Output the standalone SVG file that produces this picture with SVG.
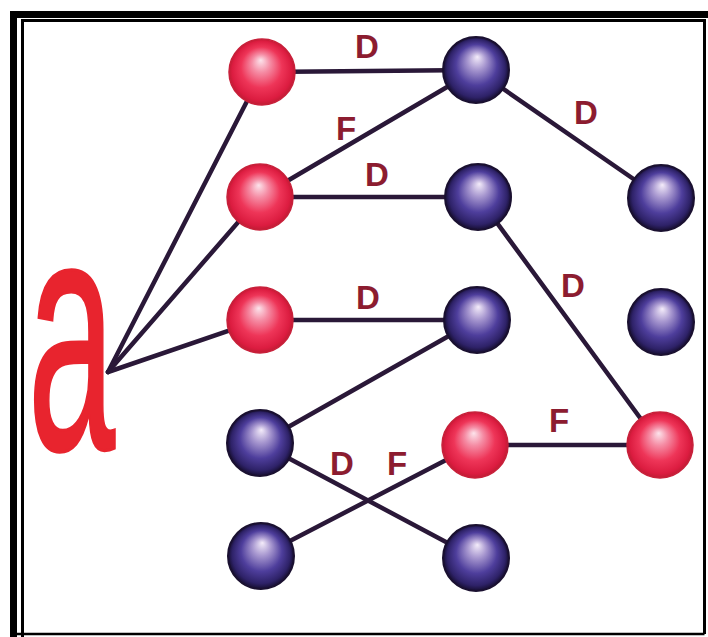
<svg xmlns="http://www.w3.org/2000/svg" width="708" height="637" viewBox="0 0 708 637">
<defs>
<radialGradient id="gRed" cx="0.5" cy="0.5" r="0.5" fx="0.48" fy="0.32">
<stop offset="0" stop-color="#fce4ec"/>
<stop offset="0.28" stop-color="#f58ca4"/>
<stop offset="0.62" stop-color="#ee3558"/>
<stop offset="0.9" stop-color="#dc1c40"/>
<stop offset="1" stop-color="#c01c34"/>
</radialGradient>
<radialGradient id="gBlue" cx="0.5" cy="0.5" r="0.5" fx="0.52" fy="0.3">
<stop offset="0" stop-color="#f4ecfa"/>
<stop offset="0.28" stop-color="#a898d0"/>
<stop offset="0.62" stop-color="#4e3e9c"/>
<stop offset="0.88" stop-color="#2e2268"/>
<stop offset="1" stop-color="#160e30"/>
</radialGradient>
<style>
.red{fill:url(#gRed);stroke:#c8203a;stroke-width:1.5}
.blue{fill:url(#gBlue);stroke:#1a1030;stroke-width:2}
.edge{stroke:#2a1838;stroke-width:4.5;fill:none;stroke-linecap:round}
.lbl{font-family:"Liberation Sans",Arial,sans-serif;font-size:33px;font-weight:bold;fill:#8c1c30;text-anchor:middle}
</style>
</defs>
<rect x="0" y="0" width="708" height="637" fill="#ffffff"/>
<g id="frame" fill="none" stroke="#000">
<path d="M13.5,637 V14.5 H708" stroke-width="7"/>
<path d="M22.5,637 V20.5 H704.5 V634" stroke-width="3"/>
<path d="M13,634 H704.5" stroke-width="2.5"/>
</g>
<g id="connectors">
<line class="edge" x1="108" y1="372" x2="262" y2="72"/>
<line class="edge" x1="108" y1="372" x2="260" y2="197"/>
<line class="edge" x1="108" y1="372" x2="260" y2="320"/>
<line class="edge" x1="262" y1="72" x2="476" y2="70"/>
<line class="edge" x1="260" y1="197" x2="476" y2="70"/>
<line class="edge" x1="260" y1="197" x2="478" y2="197"/>
<line class="edge" x1="260" y1="320" x2="477" y2="320"/>
<line class="edge" x1="476" y1="70" x2="661" y2="198"/>
<line class="edge" x1="478" y1="197" x2="660" y2="445"/>
<line class="edge" x1="477" y1="320" x2="260" y2="443"/>
<line class="edge" x1="260" y1="443" x2="476" y2="558"/>
<line class="edge" x1="261" y1="556" x2="475" y2="445"/>
<line class="edge" x1="475" y1="445" x2="660" y2="445"/>
<text class="lbl" x="367" y="58">D</text>
<text class="lbl" x="346" y="140">F</text>
<text class="lbl" x="377" y="186">D</text>
<text class="lbl" x="368" y="309">D</text>
<text class="lbl" x="586" y="124">D</text>
<text class="lbl" x="573" y="297">D</text>
<text class="lbl" x="559" y="432">F</text>
<text class="lbl" x="342" y="475">D</text>
<text class="lbl" x="397" y="475">F</text>
</g>
<g id="a-label">
<text transform="translate(28,449) scale(0.47,1)" font-family="Liberation Sans,Arial,sans-serif" font-size="333" fill="#e8242e" stroke="#e8242e" stroke-width="3">a</text>
</g>
<g id="r1"><circle class="red" cx="262" cy="72" r="33"/></g>
<g id="r2"><circle class="red" cx="260" cy="197" r="33"/></g>
<g id="r3"><circle class="red" cx="260" cy="320" r="33"/></g>
<g id="r4"><circle class="red" cx="475" cy="445" r="33"/></g>
<g id="r5"><circle class="red" cx="660" cy="445" r="33"/></g>
<g id="b1"><circle class="blue" cx="476" cy="70" r="33"/></g>
<g id="b2"><circle class="blue" cx="661" cy="198" r="33"/></g>
<g id="b3"><circle class="blue" cx="478" cy="197" r="33"/></g>
<g id="b4"><circle class="blue" cx="477" cy="320" r="33"/></g>
<g id="b5"><circle class="blue" cx="661" cy="322" r="33"/></g>
<g id="b6"><circle class="blue" cx="260" cy="443" r="33"/></g>
<g id="b7"><circle class="blue" cx="261" cy="556" r="33"/></g>
<g id="b8"><circle class="blue" cx="476" cy="558" r="33"/></g>
</svg>
